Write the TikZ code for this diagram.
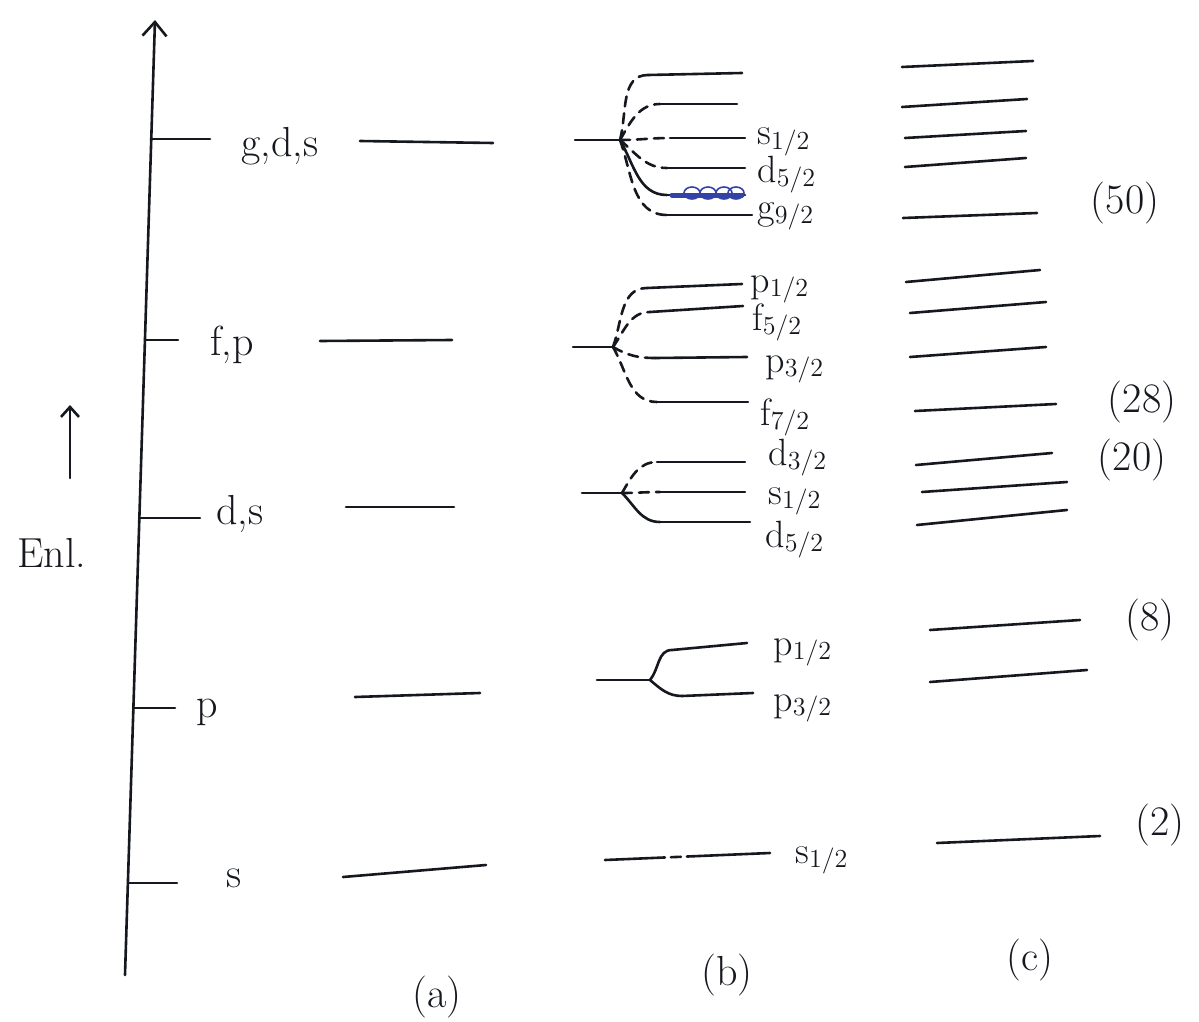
\documentclass[tikz,border=0pt]{standalone}
\usepackage{tikz}
\usepackage{xcolor}
\usetikzlibrary{arrows.meta}
\definecolor{PenInk}{HTML}{16181F}
\definecolor{PenBlue}{HTML}{3242A6}
\newcommand{\jlev}[2]{#1\raisebox{-2pt}{\fontsize{13}{13}\selectfont#2}}

\tikzset{
  level/.style={draw=PenInk,line width=1.3pt,line cap=round},
  split/.style={level,dash pattern=on 5pt off 3.5pt},
  lbl/.style={font=\fontsize{21}{24}\selectfont,text=PenInk,inner sep=1pt},
  sub/.style={font=\fontsize{19}{22}\selectfont,text=PenInk,inner sep=0pt,anchor=base west}
}

\begin{document}
\begin{tikzpicture}[x=0.5pt,y=-0.5pt]
  \useasboundingbox[fill=white] (0,0) rectangle (1199,1022);

  % energy axis
  \coordinate (axbot) at (125,975);
  \coordinate (axtop) at (155,20);
  \draw[level,-{Straight Barb[length=7pt,width=12pt]}] (axbot) -- (axtop);
  \coordinate (enbot) at (70,478);
  \coordinate (entop) at (70,405);
  \draw[level,-{Straight Barb[length=5pt,width=9pt]}] (enbot) -- (entop);
  \node[lbl] (enl) at (52,553) {Enl.};

  % (a) oscillator levels
  \foreach \n/\xt/\xe/\y/\lab/\lx/\ly/\xa/\ya/\xb/\yb in {
      gds/151/210/139/{g,d,s}/280/146/360/141/493/143,
      fp/145/178/340/{f,p}/232/345/320/341/452/340,
      ds/139/200/518/{d,s}/240/514/346/507/454/507,
      p/133/175/708/p/207/712/355/697/480/693,
      s/128/177/883/s/234/878/343/877/486/865}{
    \draw[level] (\xt,\y) -- (\xe,\y);
    \node[lbl] (a\n) at (\lx,\ly) {\lab};
    \coordinate (a\n L) at (\xa,\ya);
    \coordinate (a\n R) at (\xb,\yb);
    \draw[level] (a\n L) -- (a\n R);
  }

  % (b) spin-orbit splitting
  \coordinate (gdsIn) at (575,140);
  \coordinate (gdsB) at (620,140);
  \draw[level] (gdsIn) -- (gdsB);
  \foreach \i/\o/\xa/\ya/\xb/\yb/\cs in {
      1/75/648/75/742/73/split, 2/60/660/104/737/104/split,
      3/0/670/138/745/138/split, 4/-40/667/168/745/168/split,
      5/-60/667/195/745/195/level, 6/-70/667/215/752/215/split}{
    \coordinate (gds\i) at (\xa,\ya);
    \draw[\cs] (gdsB) to[out=\o,in=180] (gds\i);
    \draw[level] (gds\i) -- (\xb,\yb);
  }
  \draw[PenBlue,line width=2.5pt,line cap=round] (672,195) -- (742,195);
  \foreach \cx in {692,708,724,736}
    \draw[PenBlue,line width=0.8pt] (\cx,193) circle[x radius=8,y radius=6];
  \node[sub] (gdsS) at (757,145) {\jlev{s}{1/2}};
  \node[sub] (gdsD) at (757,182) {\jlev{d}{5/2}};
  \node[sub] (gdsG) at (757,219) {\jlev{g}{9/2}};

  \coordinate (fpIn) at (573,347);
  \coordinate (fpB) at (613,347);
  \draw[level] (fpIn) -- (fpB);
  \foreach \i/\o/\xa/\ya/\xb/\yb in {
      1/70/647/288/742/284, 2/55/650/312/743/306,
      3/-30/655/358/747/357, 4/-60/657/402/748/402}{
    \coordinate (fp\i) at (\xa,\ya);
    \draw[split] (fpB) to[out=\o,in=180] (fp\i);
    \draw[level] (fp\i) -- (\xb,\yb);
  }
  \node[sub] (fpP1) at (750,292) {\jlev{p}{1/2}};
  \node[sub] (fpF5) at (752,330) {\jlev{f}{5/2}};
  \node[sub] (fpP3) at (765,372) {\jlev{p}{3/2}};
  \node[sub] (fpF7) at (760,425) {\jlev{f}{7/2}};

  \coordinate (dsIn) at (582,493);
  \coordinate (dsB) at (622,493);
  \draw[level] (dsIn) -- (dsB);
  \foreach \i/\o/\xa/\ya/\xb/\yb/\cs in {
      1/60/657/462/745/462/split, 2/0/660/492/745/492/split,
      3/-45/660/522/750/522/level}{
    \coordinate (ds\i) at (\xa,\ya);
    \draw[\cs] (dsB) to[out=\o,in=180] (ds\i);
    \draw[level] (ds\i) -- (\xb,\yb);
  }
  \node[sub] (dsD3) at (768,465) {\jlev{d}{3/2}};
  \node[sub] (dsS1) at (768,504) {\jlev{s}{1/2}};
  \node[sub] (dsD5) at (765,547) {\jlev{d}{5/2}};

  \coordinate (pIn) at (597,680);
  \coordinate (pB) at (650,680);
  \draw[level] (pIn) -- (pB);
  \foreach \i/\o/\xa/\ya/\xb/\yb in {1/50/672/650/747/643, 2/-40/682/696/753/693}{
    \coordinate (p\i) at (\xa,\ya);
    \draw[level] (pB) to[out=\o,in=180] (p\i);
    \draw[level] (p\i) -- (\xb,\yb);
  }
  \node[sub] (pP1) at (773,655) {\jlev{p}{1/2}};
  \node[sub] (pP3) at (773,711) {\jlev{p}{3/2}};

  \coordinate (sL) at (605,860);
  \coordinate (sR) at (770,853);
  \draw[level,dash pattern=on 30pt off 3pt on 5pt off 3pt on 60pt] (sL) -- (sR);
  \node[sub] (sS1) at (795,863) {\jlev{s}{1/2}};

  % (c) observed levels and magic numbers
  \foreach \xa/\ya/\xb/\yb in {
      902/67/1033/61, 902/107/1027/99, 905/138/1026/131, 905/167/1026/158,
      903/218/1037/213, 906/282/1040/270, 910/313/1046/302, 910/357/1046/347,
      915/411/1056/404, 916/465/1052/453, 922/492/1067/482, 917/525/1067/510,
      930/630/1080/620, 930/682/1087/670, 937/843/1100/836}
    \draw[level] (\xa,\ya) -- (\xb,\yb);
  \foreach \n/\x/\y in {50/1125/203, 28/1142/402, 20/1132/460, 8/1150/620, 2/1160/825}
    \node[lbl] (m\n) at (\x,\y) {(\n)};

  \node[lbl] (capA) at (437,997) {(a)};
  \node[lbl] (capB) at (727,975) {(b)};
  \node[lbl] (capC) at (1030,960) {(c)};
\end{tikzpicture}
\end{document}
